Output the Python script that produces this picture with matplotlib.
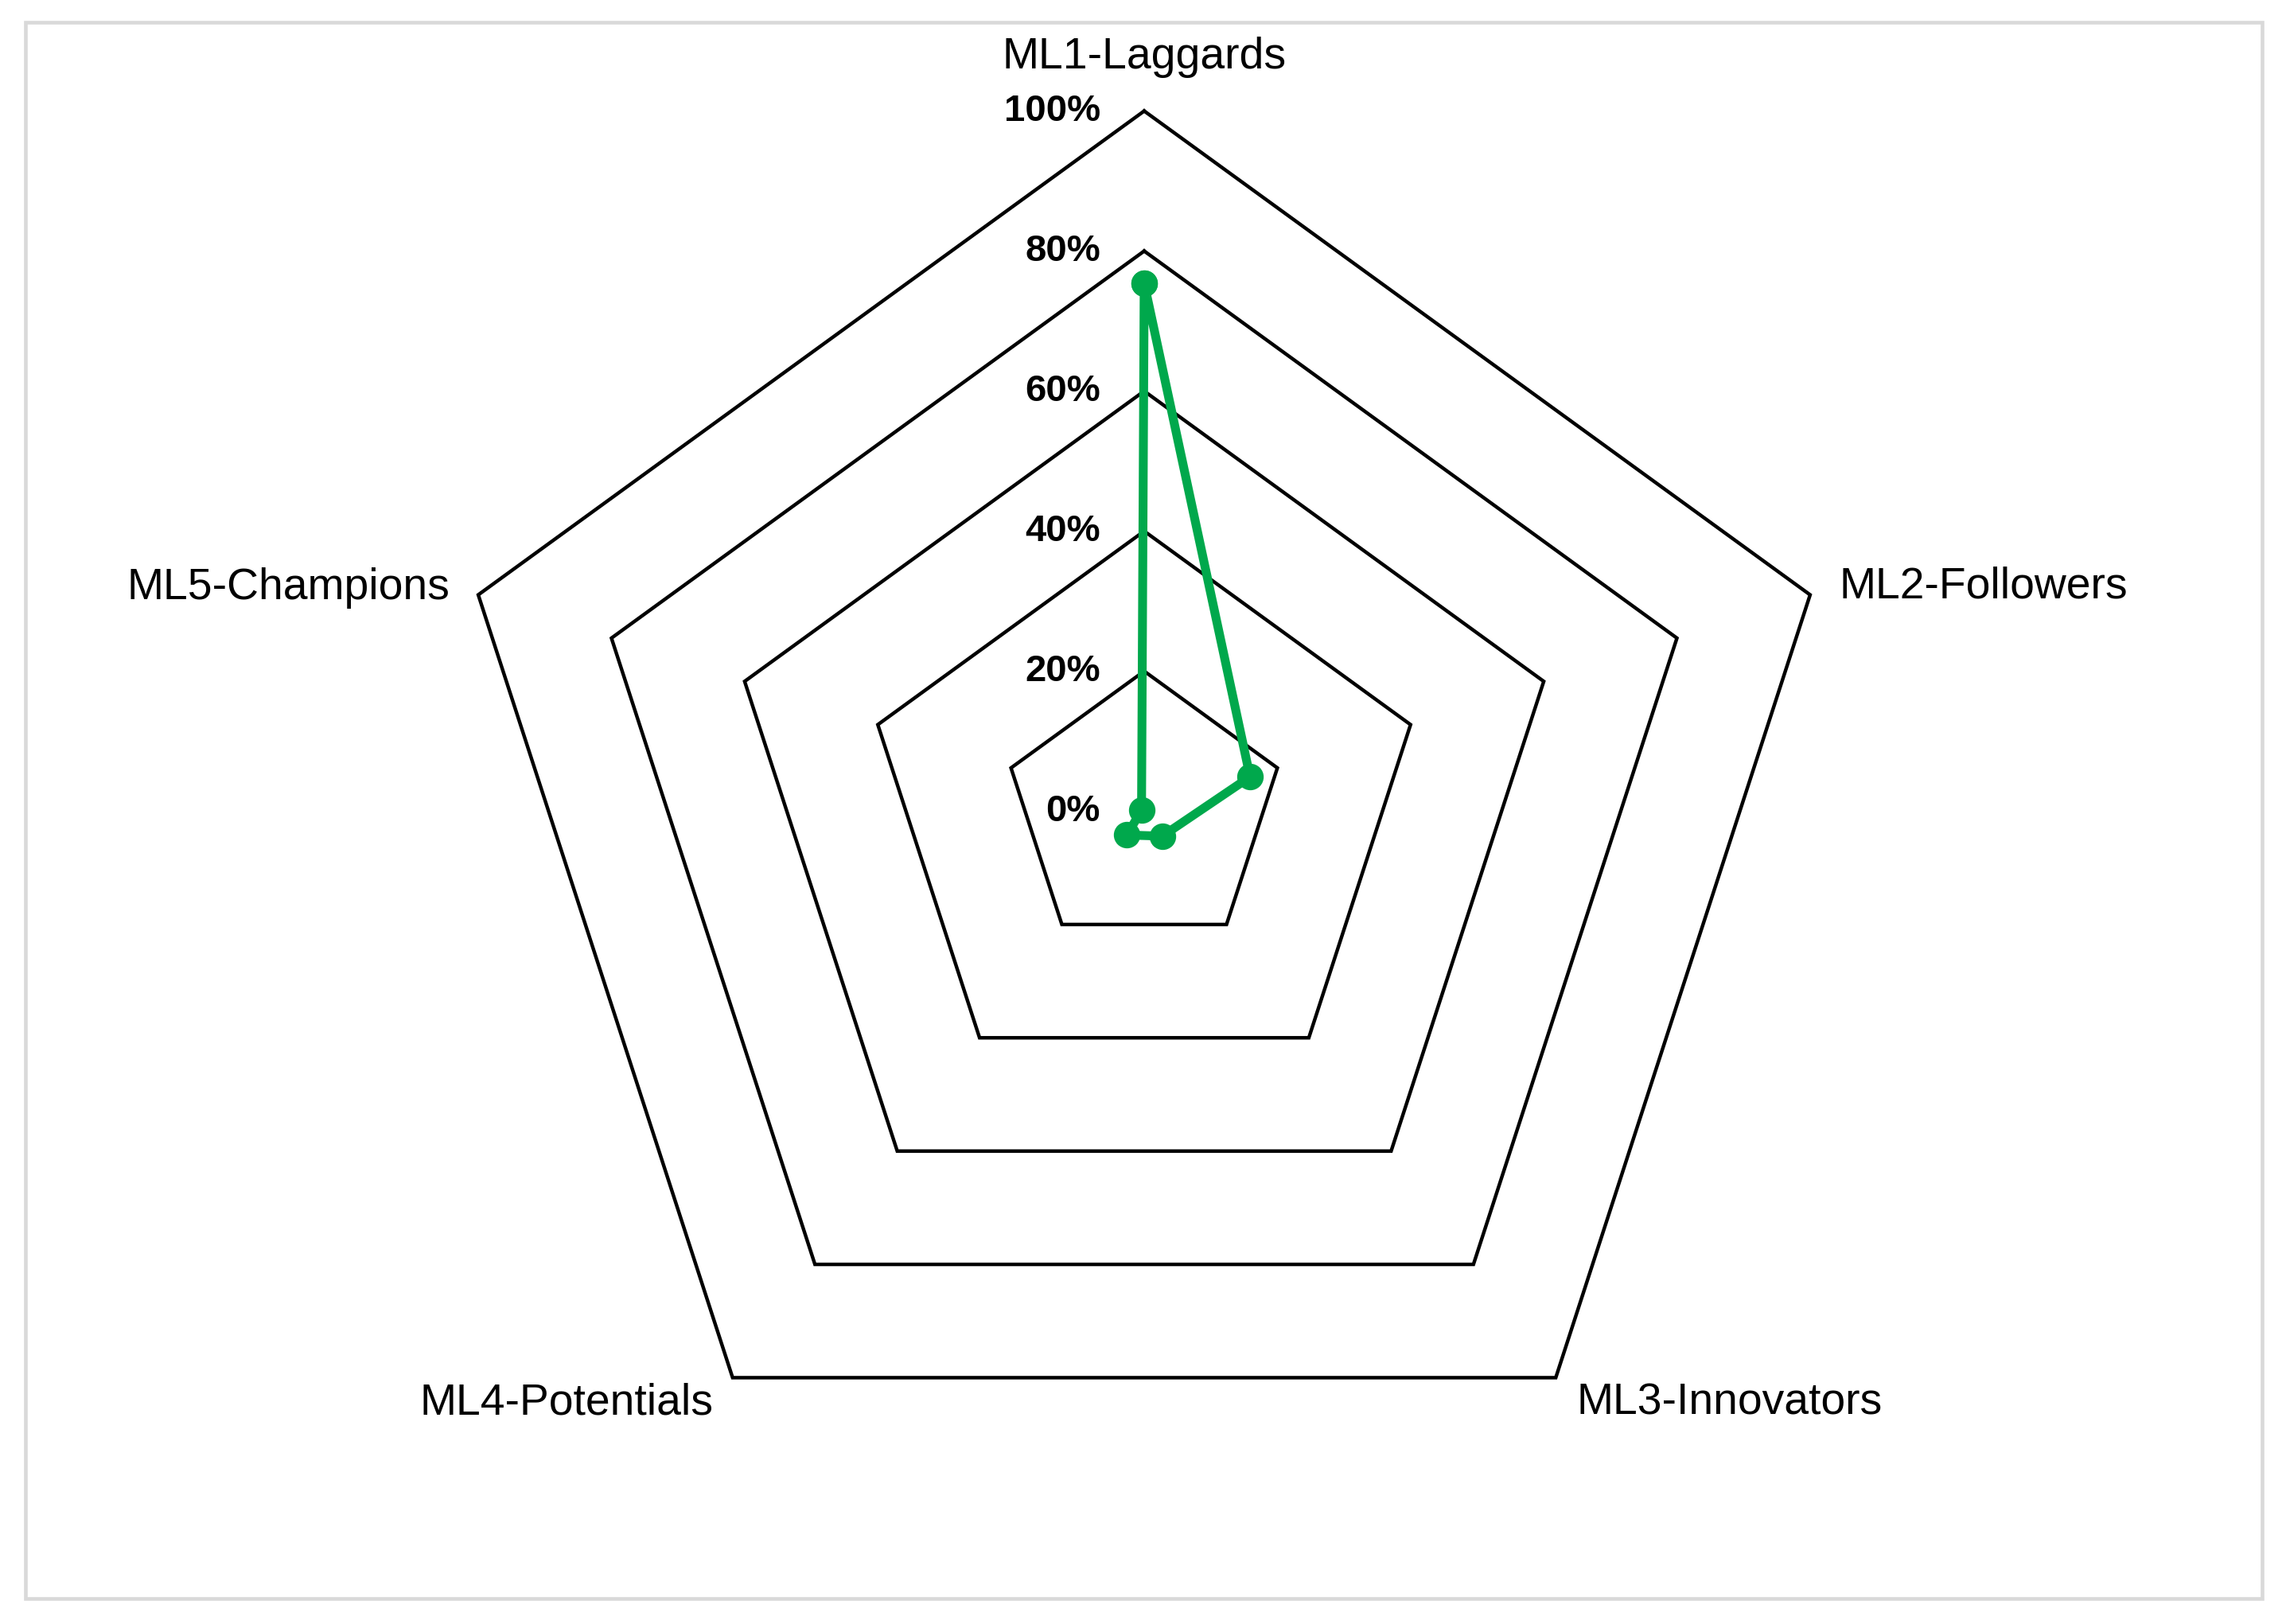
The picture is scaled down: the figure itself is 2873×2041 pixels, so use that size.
import numpy as np
import matplotlib
matplotlib.use('Agg')
import matplotlib.pyplot as plt
from matplotlib.patches import Rectangle

plt.rcParams['font.family'] = ['Liberation Sans', 'DejaVu Sans']

#------------------------------------------------ data ------------------------------------------------
categorias = ['ML1-Laggards', 'ML2-Followers', 'ML3-Innovators', 'ML4-Potentials', 'ML5-Champions']
valores = [0.754, 0.159, 0.044, 0.042, 0.004]
niveles = [0.2, 0.4, 0.6, 0.8, 1.0]
etiquetas_niveles = ['0%', '20%', '40%', '60%', '80%', '100%']

#------------------------------------------------ layout (pixels) ------------------------------------------------
W, H = 2873, 2041
cx, cy, R = 1438, 1019.5, 880        # centre of radar (from top-left) and radius of 100% ring
px = 0.72                            # pixel -> point at dpi 100

fig = plt.figure(figsize=(W / 100, H / 100), dpi=100)
ax = fig.add_axes([0, 0, 1, 1])
ax.set_xlim(-cx / R, (W - cx) / R)
ax.set_ylim(-(H - cy) / R, cy / R)
ax.set_aspect('equal')
ax.axis('off')

n = len(categorias)
ang = np.deg2rad(90 - 72 * np.arange(n))
ang_c = np.append(ang, ang[0])

# pentagon grid
for lv in niveles:
    ax.plot(lv * np.cos(ang_c), lv * np.sin(ang_c), color='black', lw=3.2,
            solid_joinstyle='miter', zorder=1)

# percent labels
for i, t in enumerate(etiquetas_niveles):
    r = i * 0.2
    ax.annotate(t, (0, r), xytext=(-55 * px, 0), textcoords='offset points',
                ha='right', va='center', fontsize=34, fontweight='bold')

# data series
v = np.append(valores, valores[0])
ax.plot(v * np.cos(ang_c), v * np.sin(ang_c), color='#00A84C', lw=8,
        marker='o', markersize=23, solid_joinstyle='round', zorder=3)

# category labels
offs = [((0, 53), 'center', 'baseline'),
        ((37, -4), 'left', 'baseline'),
        ((26, -46), 'left', 'baseline'),
        ((-24, -46), 'right', 'baseline'),
        ((-36, -5), 'right', 'baseline')]
for i, c in enumerate(categorias):
    (dx, dy), ha, va = offs[i]
    ax.annotate(c, (np.cos(ang[i]), np.sin(ang[i])), xytext=(dx * px, dy * px),
                textcoords='offset points', ha=ha, va=va, fontsize=39.8)

# chart area border
fig.patches.append(Rectangle((32 / W, 1 - 2009 / H), (2843 - 32) / W, (2009 - 28) / H,
                             transform=fig.transFigure, fill=False,
                             edgecolor='#d9d9d9', lw=3.3))

fig.savefig('out.png', dpi=100, facecolor='white')
